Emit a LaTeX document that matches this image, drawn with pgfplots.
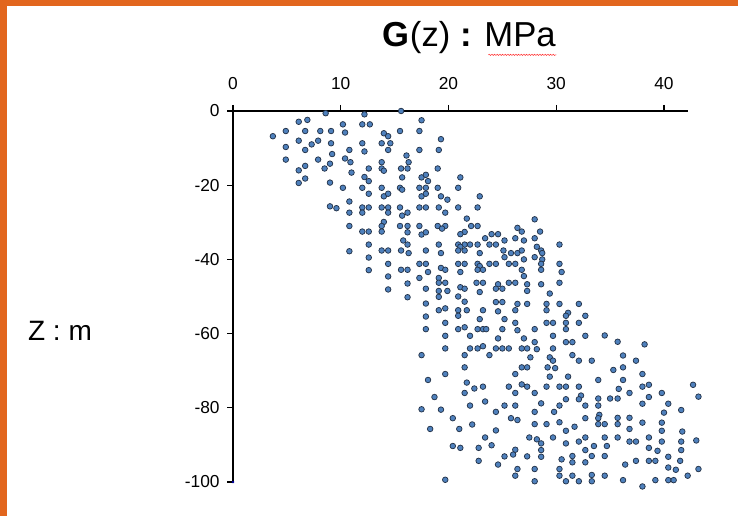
\documentclass[border=0pt]{standalone}
\usepackage{fontspec}
\setmainfont{Liberation Sans}
\usepackage{pgfplots}
\pgfplotsset{compat=1.18}
\usetikzlibrary{decorations.pathmorphing}
\definecolor{slideorange}{RGB}{226,102,30}
\definecolor{ptfill}{RGB}{79,129,189}
\definecolor{ptedge}{RGB}{35,50,72}

\begin{document}
\begin{tikzpicture}
\fill[slideorange] (0,0) rectangle (553.5pt,-387pt);
\fill[white] (5.25pt,-4.5pt) rectangle (553.5pt,-387pt);
\begin{axis}[
  at={(174.75pt,-83.25pt)}, anchor=north west,
  scale only axis, width=341pt, height=278.25pt,
  xmin=0, xmax=42.2, ymin=-100, ymax=0,
  clip=false,
  axis x line*=top, axis y line*=left,
  axis line style={line width=1.6pt},
  tick align=outside,
  major tick length=4.5pt,
  tick style={line width=1pt, black},
  xtick={0,10,20,30,40}, ytick={0,-20,-40,-60,-80,-100},
  ticklabel style={font=\fontsize{13}{15}\selectfont},
  /pgf/number format/assume math mode=true,
  xticklabel style={yshift=8pt},
  yticklabel style={xshift=-2pt},
]
% G(z) samples, MPa vs depth z in m
\addplot[only marks, mark=*, mark size=2.1pt,
  mark options={fill=ptfill, draw=ptedge, line width=0.55pt}] coordinates {
% 0 to -31 m
(8.6,-0.6) (12.2,-0.9) (15.6,0) (6.1,-2.9) (6.9,-2.4) (17.5,-2.5)
(10.2,-3.6) (12.0,-3.6) (12.7,-3.6) (4.9,-5.4) (6.7,-5.4) (8.1,-5.4)
(9.1,-5.4) (10.4,-5.8) (14.0,-6.0) (14.4,-6.8) (15.5,-5.4) (17.3,-5.4)
(3.7,-6.8) (6.1,-8.0) (7.9,-8.0) (7.3,-9.0) (9.1,-8.7) (12.0,-8.7)
(13.8,-8.7) (14.6,-8.7) (19.3,-7.6) (4.9,-9.7) (6.7,-10.5) (10.8,-10.5)
(12.2,-10.9) (14.4,-10.5) (17.3,-10.5) (19.1,-10.5) (9.2,-11.6) (16.1,-12.0)
(4.9,-13.1) (7.9,-13.1) (10.4,-12.8) (10.9,-13.8) (9.0,-14.2) (13.8,-13.8)
(16.3,-13.8) (6.7,-14.8) (6.1,-16.0) (8.5,-15.5) (11.0,-16.6) (12.6,-15.5)
(13.8,-15.5) (14.0,-16.1) (15.6,-15.5) (16.2,-15.5) (19.0,-15.5) (6.7,-18.2)
(6.1,-19.4) (9.0,-19.3) (12.2,-17.8) (12.6,-18.9) (15.7,-17.9) (17.5,-17.9)
(17.9,-17.2) (18.1,-18.9) (21.1,-17.9) (10.2,-20.7) (12.0,-20.7) (13.8,-20.7)
(15.5,-20.7) (15.7,-21.2) (17.3,-20.7) (17.9,-20.7) (19.0,-20.7) (20.9,-20.7)
(12.6,-22.3) (14.0,-23.0) (14.4,-22.3) (17.5,-23.0) (17.9,-22.3) (19.3,-23.0)
(19.9,-23.9) (22.9,-23.0) (10.8,-24.4) (9.0,-25.7) (9.6,-26.2) (12.0,-26.0)
(12.6,-26.0) (13.8,-26.0) (14.4,-26.0) (15.5,-26.0) (17.3,-26.0) (17.9,-26.0)
(19.1,-26.0) (20.9,-26.0) (22.7,-26.0) (10.8,-27.4) (12.0,-27.4) (14.4,-27.4)
(15.7,-28.2) (16.2,-27.4) (19.7,-27.4) (21.7,-29.0) (28.0,-29.2) (10.8,-31.0)
(14.0,-29.9) (13.8,-31.0) (15.5,-31.0) (16.2,-31.0) (17.3,-31.0) (19.0,-31.0)
(19.7,-31.0) (22.1,-31.0) (22.7,-31.0)
% -31 to -66 m, left part
(12.0,-32.5) (12.6,-32.5) (13.8,-32.5) (16.2,-32.7) (17.5,-33.3) (17.9,-32.7)
(19.4,-31.7) (12.6,-36.0) (15.8,-34.9) (16.2,-36.0) (19.1,-36.0) (10.8,-37.8)
(13.8,-37.6) (14.4,-37.6) (15.6,-37.6) (16.3,-38.3) (17.9,-37.6) (19.3,-38.3)
(12.6,-39.5) (14.4,-41.2) (17.3,-41.2) (17.9,-41.2) (19.3,-42.3) (19.7,-42.8)
(12.6,-42.9) (15.6,-42.8) (16.2,-42.8) (18.1,-43.4) (14.4,-44.6) (17.3,-45.0)
(19.1,-45.0) (19.1,-46.3) (19.7,-46.3) (16.2,-46.5) (14.4,-48.1) (17.9,-47.9)
(19.1,-48.5) (19.9,-48.5) (16.2,-50.2) (19.1,-50.1) (17.9,-51.9) (19.1,-53.7)
(19.7,-53.2) (17.9,-55.4) (19.7,-57.1) (17.9,-58.8) (19.7,-60.6) (19.7,-64.0)
(17.5,-65.8)
% -31 to -66 m, right part
(21.5,-32.6) (21.1,-33.2) (24.0,-33.2) (24.6,-33.2) (26.4,-31.5) (26.8,-32.5)
(28.5,-32.5) (23.4,-34.3) (25.2,-34.9) (26.2,-34.3) (27.0,-34.9) (28.0,-34.3)
(20.9,-36.0) (21.5,-36.0) (22.0,-36.0) (22.7,-36.0) (21.1,-36.6) (20.9,-37.6)
(21.5,-37.6) (23.8,-36.0) (24.4,-36.0) (25.1,-37.6) (25.8,-38.3) (26.4,-38.3)
(26.8,-37.6) (28.2,-36.6) (28.6,-37.6) (28.7,-38.3) (30.3,-36.0) (22.9,-38.3)
(25.2,-39.4) (27.0,-40.0) (28.0,-39.4) (28.7,-40.0) (20.9,-41.2) (21.5,-41.2)
(22.7,-41.2) (22.9,-41.8) (23.8,-41.2) (24.4,-41.2) (25.6,-41.2) (26.2,-41.2)
(28.6,-41.2) (30.3,-41.2) (22.7,-42.8) (23.2,-42.8) (21.1,-43.4) (26.8,-42.8)
(28.6,-42.8) (30.5,-43.4) (27.0,-44.5) (22.6,-46.3) (23.2,-46.3) (24.6,-46.7)
(25.6,-46.3) (26.2,-46.3) (27.3,-46.7) (28.6,-46.7) (30.3,-46.3) (21.1,-47.5)
(21.5,-47.9) (24.4,-47.9) (25.0,-47.9) (27.3,-48.5) (22.9,-48.8) (29.4,-49.2)
(20.9,-50.0) (21.5,-51.4) (24.4,-51.5) (25.0,-51.5) (26.4,-52.0) (27.3,-52.0)
(29.1,-52.0) (30.3,-52.0) (32.1,-52.0) (20.9,-53.7) (21.7,-53.7) (23.2,-53.7)
(24.6,-54.0) (26.2,-53.7) (29.1,-53.7) (31.1,-54.4) (30.9,-55.2) (32.7,-55.2)
(20.9,-55.2) (22.9,-56.1) (25.2,-56.1) (26.2,-57.1) (29.1,-57.1) (29.7,-57.1)
(30.9,-57.1) (32.1,-57.1) (20.9,-58.8) (21.5,-58.3) (22.7,-58.8) (23.2,-58.8)
(23.5,-58.8) (25.0,-58.8) (26.4,-59.1) (28.0,-58.8) (30.9,-58.8) (22.0,-60.6)
(24.6,-61.3) (27.0,-61.3) (29.7,-60.6) (32.7,-60.6) (34.5,-60.5) (35.7,-62.2)
(28.0,-62.3) (30.9,-62.3) (31.5,-62.3) (22.0,-64.0) (22.7,-64.0) (23.2,-63.4)
(24.4,-64.0) (25.0,-64.0) (25.6,-64.0) (26.8,-64.0) (27.3,-64.0) (28.2,-64.2)
(29.7,-64.0) (21.5,-65.8) (23.8,-65.8) (27.6,-66.4) (29.4,-66.4) (31.5,-65.8)
(38.2,-62.9)
% -66 to -101 m, left part
(21.5,-69.1) (26.8,-69.1) (27.3,-69.1) (19.7,-70.9) (26.2,-70.9) (18.1,-72.5)
(21.7,-73.2) (22.4,-74.8) (23.2,-74.3) (25.6,-74.3) (26.8,-73.7) (27.3,-74.3)
(21.5,-76.0) (26.2,-76.0) (28.0,-76.0) (18.7,-77.1) (22.0,-79.4) (23.4,-78.3)
(25.2,-79.4) (26.2,-79.4) (17.5,-80.4) (19.3,-80.5) (24.4,-81.1) (28.0,-81.1)
(20.4,-82.8) (25.8,-82.8) (26.4,-83.3) (18.3,-85.7) (21.0,-85.7) (22.2,-84.5)
(24.4,-86.1) (28.0,-84.4) (23.4,-88.0) (27.5,-88.0) (28.2,-88.5) (20.4,-90.3)
(21.1,-90.8) (22.8,-90.8) (24.0,-90.1) (26.2,-91.3) (26.0,-92.6) (25.2,-93.1)
(27.3,-93.1) (22.8,-94.3) (24.6,-95.3) (26.4,-96.5) (28.0,-96.5) (26.2,-98.3)
(28.0,-99.8) (19.7,-99.4)
% -66 to -101 m, right part
(29.7,-67.3) (32.1,-67.3) (33.3,-67.3) (36.2,-65.9) (37.4,-67.3) (29.2,-69.1)
(29.9,-69.3) (35.3,-69.8) (36.2,-69.1) (29.4,-71.6) (31.1,-71.6) (38.0,-70.9)
(33.9,-72.5) (36.2,-72.5) (29.1,-74.3) (30.3,-74.3) (30.9,-74.3) (32.1,-74.3)
(38.0,-74.3) (38.6,-73.8) (42.7,-73.8) (35.8,-74.9) (36.8,-76.0) (39.8,-76.0)
(32.3,-76.7) (30.9,-77.7) (32.1,-77.7) (33.9,-77.5) (35.0,-77.5) (35.7,-77.5)
(38.6,-77.1) (28.6,-78.8) (30.3,-79.4) (32.7,-79.4) (33.9,-79.4) (38.0,-78.9)
(40.4,-78.9) (41.6,-80.6) (29.8,-81.1) (34.0,-81.9) (33.9,-82.8) (32.7,-82.8)
(35.7,-82.7) (36.8,-82.7) (40.0,-81.3) (29.1,-84.4) (30.3,-83.9) (31.7,-85.1)
(33.9,-84.4) (34.5,-84.4) (35.7,-84.4) (36.8,-85.7) (38.0,-84.0) (39.8,-84.0)
(39.8,-86.2) (41.7,-86.4) (30.9,-86.2) (29.7,-88.0) (32.7,-88.0) (34.5,-88.0)
(35.7,-88.0) (38.6,-88.0) (28.6,-89.6) (30.9,-89.6) (32.1,-89.1) (33.5,-90.3)
(34.7,-90.3) (36.8,-89.1) (37.4,-89.1) (39.8,-89.1) (41.6,-89.1) (38.6,-90.8)
(39.4,-91.6) (41.6,-91.4) (28.6,-91.4) (32.7,-91.4) (28.6,-93.2) (31.5,-93.0)
(33.3,-93.0) (34.5,-93.0) (40.4,-93.2) (30.5,-93.9) (31.5,-94.7) (32.7,-94.7)
(36.4,-95.3) (37.4,-94.3) (38.6,-94.3) (39.2,-94.3) (41.5,-94.3) (40.4,-96.1)
(41.1,-96.7) (30.3,-96.5) (30.3,-98.3) (31.5,-98.3) (33.3,-98.1) (33.3,-99.8)
(34.5,-98.3) (30.9,-99.8) (32.1,-99.8) (36.2,-99.5) (38.0,-101.2) (39.2,-99.5)
(40.4,-99.5) (40.9,-99.5) (42.2,-98.3) (43.2,-77.0) (43.0,-88.8) (43.2,-96.5)
};
\addplot[only marks, mark=*, mark size=0.8pt, color=blue!60!black] coordinates {(0,-100)};
\end{axis}
\node[font=\fontsize{26}{30}\selectfont] (ttl) at (352pt,-28.5pt) {\textbf{G}(z) \textbf{:} MPa};
\draw[red!80, line width=0.4pt, decorate,
  decoration={snake, amplitude=0.45pt, segment length=2pt}]
  ([xshift=-54pt,yshift=3pt]ttl.south east) -- ([xshift=-3pt,yshift=3pt]ttl.south east);
\node[font=\fontsize{21}{25}\selectfont] at (45pt,-248.25pt) {Z : m};
\end{tikzpicture}
\end{document}
